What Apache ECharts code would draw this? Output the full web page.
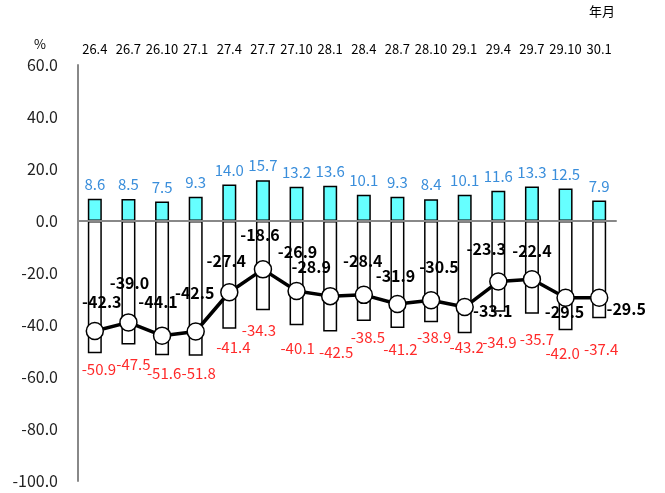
<!DOCTYPE html>
<html>
<head>
<meta charset="utf-8">
<script src="https://cdn.jsdelivr.net/npm/echarts@6/dist/echarts.min.js"></script>
<style>
  html, body { margin: 0; padding: 0; background: #fff; }
  #main { width: 665px; height: 493px; }
</style>
</head>
<body>
<div id="main"></div>
<script>
var categories = ["26.4", "26.7", "26.10", "27.1", "27.4", "27.7", "27.10", "28.1",
  "28.4", "28.7", "28.10", "29.1", "29.4", "29.7", "29.10", "30.1"];
var upValues = [8.6, 8.5, 7.5, 9.3, 14.0, 15.7, 13.2, 13.6, 10.1, 9.3, 8.4, 10.1, 11.6, 13.3, 12.5, 7.9];
var downValues = [-50.9, -47.5, -51.6, -51.8, -41.4, -34.3, -40.1, -42.5, -38.5, -41.2, -38.9, -43.2, -34.9, -35.7, -42.0, -37.4];
var diValues = [-42.3, -39.0, -44.1, -42.5, -27.4, -18.6, -26.9, -28.9, -28.4, -31.9, -30.5, -33.1, -23.3, -22.4, -29.5, -29.5];

// label nudges so the numbers sit where the original put them
var lineLabelOffsets = [[7, -7], [1, -17], [-4, -11], [-1, -16], [-3, -9], [-3, -12], [1, -17], [-19, -7],
  [-1, -12], [-2, -6], [8, -11], [28, 26], [-12, -10], [0, -6], [-1, 36], [27, 33]];
var downLabelOffsets = [[4, 3], [5, 7], [2, 6], [3, 5], [4, 6], [-4, 8], [1, 11], [6, 8],
  [4, 4], [3, 9], [3, 3], [2, 1], [1, 18], [5, 13], [-3, 11], [2, 19]];

var font = '"Noto Sans CJK JP", "Noto Sans", sans-serif';

var lineData = diValues.map(function (v, i) {
  return { value: v, label: { offset: lineLabelOffsets[i] } };
});
var downData = downValues.map(function (v, i) {
  return { value: v, label: { offset: downLabelOffsets[i] } };
});

var option = {
  animation: false,
  textStyle: { fontFamily: font },
  grid: { left: 78, right: 49, top: 65, bottom: 12 },
  graphic: [
    { type: "text", left: 34, top: 38, style: { text: "%", font: "13px " + font, fill: "#000" } },
    { type: "text", left: 589, top: 5, style: { text: "年月", font: "13px " + font, fill: "#000" } }
  ],
  xAxis: [
    {
      type: "category",
      data: categories,
      position: "bottom",
      z: 3,
      axisLine: { onZero: true, lineStyle: { color: "#888", width: 2 } },
      axisTick: { show: false },
      axisLabel: { show: false }
    },
    {
      type: "category",
      data: categories,
      position: "top",
      axisLine: { show: false },
      axisTick: { show: false },
      axisLabel: { color: "#000", fontSize: 13, margin: 9, interval: 0 }
    }
  ],
  yAxis: {
    type: "value",
    min: -100,
    max: 60,
    interval: 20,
    splitLine: { show: false },
    axisLine: { show: true, lineStyle: { color: "#888", width: 2 } },
    axisTick: { show: false },
    axisLabel: {
      color: "#222",
      fontSize: 16,
      margin: 20,
      formatter: function (v) { return v.toFixed(1); }
    }
  },
  series: [
    {
      name: "up",
      type: "bar",
      data: upValues,
      barWidth: 14,
      barGap: "-100%",
      itemStyle: { color: "#66FFFF", borderColor: "#000", borderWidth: 1.5 },
      label: {
        show: true,
        position: "top",
        distance: 7,
        color: "#3A8EDB",
        fontSize: 15,
        formatter: function (p) { return p.value.toFixed(1); }
      }
    },
    {
      name: "down",
      type: "bar",
      data: downData,
      barWidth: 14,
      barGap: "-100%",
      itemStyle: { color: "#fff", borderColor: "#000", borderWidth: 1.5 },
      label: {
        show: true,
        position: "bottom",
        distance: 5,
        color: "#FF2A2A",
        fontSize: 15,
        formatter: function (p) { return p.value.toFixed(1); }
      }
    },
    {
      name: "DI",
      type: "line",
      data: lineData,
      z: 5,
      symbol: "circle",
      symbolSize: 17,
      lineStyle: { color: "#000", width: 3.5 },
      itemStyle: { color: "#fff", borderColor: "#000", borderWidth: 1.5 },
      label: {
        show: true,
        position: "top",
        distance: 5,
        color: "#000",
        fontSize: 16,
        fontWeight: "bold",
        formatter: function (p) { return p.value.toFixed(1); }
      }
    }
  ]
};

var myChart = echarts.init(document.getElementById("main"));
myChart.setOption(option);
</script>
</body>
</html>
